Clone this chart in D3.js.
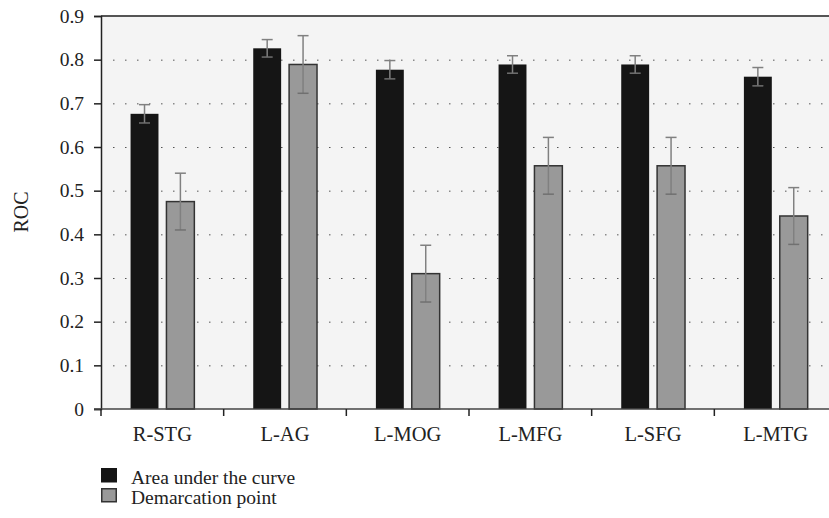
<!DOCTYPE html>
<html>
<head>
<meta charset="utf-8">
<script src="https://cdn.jsdelivr.net/npm/d3@7"></script>
<style>
  body { margin: 0; background: #fff; }
  text { font-family: "Liberation Serif", "DejaVu Serif", serif; fill: #222; }
</style>
</head>
<body>
<script>
// regions on the x axis
let regions = ["R-STG", "L-AG", "L-MOG", "L-MFG", "L-SFG", "L-MTG"];
let seriesNames = ["Area under the curve", "Demarcation point"];
// area under the curve, with error half-width
let auc = [0.676, 0.826, 0.777, 0.789, 0.789, 0.761];
let aucErr = [0.021, 0.020, 0.021, 0.020, 0.020, 0.021];
// demarcation point, with error half-width
let demarc = [0.475, 0.789, 0.310, 0.557, 0.557, 0.442];
let demarcErr = [0.065, 0.066, 0.065, 0.065, 0.065, 0.065];
let yTicks = [0, 0.1, 0.2, 0.3, 0.4, 0.5, 0.6, 0.7, 0.8, 0.9];

let width = 829, height = 518;
let plotLeft = 101, plotTop = 16, plotBottom = 409, plotRight = 837;
let colors = ["#151515", "#999999"];

let svg = d3.select("body").append("svg")
    .attr("width", width)
    .attr("height", height);

let x = d3.scaleBand().domain(regions).range([plotLeft, plotRight]).padding(0);
let bw = x.bandwidth();
let xs = d3.scaleBand().domain([0, 1]).range([bw * 0.241, bw * 0.761]).paddingInner(0.222);
let y = d3.scaleLinear().domain([0, 0.9]).range([plotBottom, plotTop]);

// plot background
svg.append("rect")
    .attr("x", plotLeft).attr("y", plotTop)
    .attr("width", plotRight - plotLeft).attr("height", plotBottom - plotTop)
    .attr("fill", "#f4f4f4");

// dotted grid lines
svg.append("g").selectAll("line")
    .data(yTicks.filter(d => d > 0 && d < 0.9))
    .enter().append("line")
    .attr("x1", plotLeft + 12).attr("x2", plotRight)
    .attr("y1", d => y(d) + 0.5).attr("y2", d => y(d) + 0.5)
    .attr("stroke", "#555")
    .attr("stroke-width", 1)
    .attr("stroke-dasharray", "1.5,10.5");

// top frame line
svg.append("line")
    .attr("x1", plotLeft).attr("x2", plotRight)
    .attr("y1", y(0.9)).attr("y2", y(0.9))
    .attr("stroke", "#555").attr("stroke-width", 2);

let data = regions.map((r, i) => ({
    region: r,
    values: [
        { s: 0, v: auc[i], e: aucErr[i] },
        { s: 1, v: demarc[i], e: demarcErr[i] }
    ]
}));

let group = svg.append("g").selectAll("g")
    .data(data)
    .enter().append("g")
    .attr("transform", d => "translate(" + x(d.region) + ",0)");

let bar = group.selectAll("g")
    .data(d => d.values)
    .enter().append("g");

bar.append("rect")
    .attr("x", d => xs(d.s))
    .attr("width", xs.bandwidth())
    .attr("y", d => y(d.v))
    .attr("height", d => y(0) - y(d.v))
    .attr("fill", d => colors[d.s])
    .attr("stroke", d => d.s === 1 ? "#333" : "none")
    .attr("stroke-width", 1.5);

// error bars
let cx = d => xs(d.s) + xs.bandwidth() / 2;
bar.append("line")
    .attr("x1", cx).attr("x2", cx)
    .attr("y1", d => y(d.v + d.e)).attr("y2", d => y(d.v - d.e))
    .attr("stroke", "#808080").attr("stroke-width", 1.5);
bar.append("line")
    .attr("x1", d => cx(d) - 5.5).attr("x2", d => cx(d) + 5.5)
    .attr("y1", d => y(d.v + d.e)).attr("y2", d => y(d.v + d.e))
    .attr("stroke", "#808080").attr("stroke-width", 1.5);
bar.append("line")
    .attr("x1", d => cx(d) - 5.5).attr("x2", d => cx(d) + 5.5)
    .attr("y1", d => y(d.v - d.e)).attr("y2", d => y(d.v - d.e))
    .attr("stroke", "#707070").attr("stroke-width", 1.5);

// y axis
let yAxis = svg.append("g")
    .attr("transform", "translate(" + plotLeft + ",0)")
    .call(d3.axisLeft(y).tickValues(yTicks).tickFormat(d => d === 0 ? "0" : d3.format(".1f")(d))
        .tickSizeOuter(0).tickSize(7).tickPadding(10));
yAxis.select(".domain").attr("stroke", "#222").attr("stroke-width", 1.5);
yAxis.selectAll(".tick line").attr("stroke", "#222").attr("stroke-width", 1.5);
yAxis.selectAll("text").style("font-size", "19.5px").attr("fill", "#222");

// x axis: ticks at band boundaries
let xAxis = svg.append("g").attr("transform", "translate(0," + plotBottom + ")");
xAxis.append("line")
    .attr("x1", plotLeft - 7).attr("x2", plotRight)
    .attr("stroke", "#444").attr("stroke-width", 1.5);
xAxis.selectAll(".bt")
    .data(regions.concat(["end"]))
    .enter().append("line")
    .attr("class", "bt")
    .attr("x1", (d, i) => plotLeft + i * bw).attr("x2", (d, i) => plotLeft + i * bw)
    .attr("y1", 0).attr("y2", 7)
    .attr("stroke", "#222").attr("stroke-width", 1.5);
xAxis.selectAll("text")
    .data(regions)
    .enter().append("text")
    .attr("x", d => x(d) + bw / 2)
    .attr("y", 32)
    .attr("text-anchor", "middle")
    .style("font-size", "20.5px")
    .text(d => d);

// y label
svg.append("text")
    .attr("transform", "translate(28,212) rotate(-90)")
    .attr("text-anchor", "middle")
    .style("font-size", "20px")
    .text("ROC");

// legend
let legend = svg.append("g").selectAll("g")
    .data(seriesNames)
    .enter().append("g")
    .attr("transform", (d, i) => "translate(101," + (468 + i * 20) + ")");
legend.append("rect")
    .attr("x", (d, i) => i === 1 ? 0.75 : 0)
    .attr("y", (d, i) => i === 1 ? 0.75 : 0)
    .attr("width", (d, i) => i === 1 ? 14.5 : 16)
    .attr("height", (d, i) => i === 1 ? 13 : 14.5)
    .attr("fill", (d, i) => colors[i])
    .attr("stroke", (d, i) => i === 1 ? "#333" : "none")
    .attr("stroke-width", 1.5);
legend.append("text")
    .attr("x", 30)
    .attr("y", 16)
    .style("font-size", "19.5px")
    .text(d => d);
</script>
</body>
</html>
